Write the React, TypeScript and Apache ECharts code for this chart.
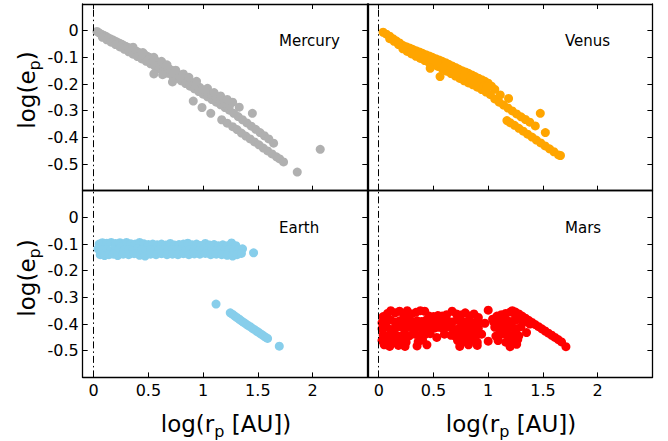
import React, { useEffect, useRef } from 'react';
import * as echarts from 'echarts';

const xTicks = [0, 0.5, 1, 1.5, 2];
const yTicks = [0, -0.1, -0.2, -0.3, -0.4, -0.5];
const planetNames = ['Mercury', 'Venus', 'Earth', 'Mars'];
const planetColors = ['#b0b0b0', '#ffa500', '#87ceeb', '#ff0000'];

const mercuryPts: number[][] = [
  [0.03,-0.003],[0.05,-0.008],[0.07,-0.013],[0.09,-0.017],[0.11,-0.021],[0.13,-0.026],[0.15,-0.03],[0.17,-0.034],[0.19,-0.038],[0.21,-0.042],[0.23,-0.046],[0.25,-0.05],[0.27,-0.054],[0.29,-0.058],[0.31,-0.062],[0.33,-0.066],[0.35,-0.07],[0.37,-0.073],[0.39,-0.077],[0.41,-0.081],[0.43,-0.085],[0.45,-0.089],[0.47,-0.092],[0.49,-0.096],[0.51,-0.1],[0.53,-0.105],[0.55,-0.109],[0.57,-0.114],[0.59,-0.118],[0.61,-0.123],[0.63,-0.128],[0.65,-0.133],[0.67,-0.138],[0.69,-0.143],[0.71,-0.148],[0.73,-0.153],[0.75,-0.158],[0.77,-0.163],[0.79,-0.168],[0.81,-0.173],[0.83,-0.178],[0.85,-0.183],[0.87,-0.188],[0.89,-0.193],[0.91,-0.198],[0.93,-0.203],[0.95,-0.208],[0.97,-0.213],
  [0.08,-0.025],[0.12,-0.034],[0.16,-0.043],[0.2,-0.052],[0.24,-0.061],[0.28,-0.07],[0.32,-0.079],[0.36,-0.088],[0.4,-0.097],[0.44,-0.106],[0.48,-0.115],[0.52,-0.124],[0.56,-0.133],[0.6,-0.142],[0.64,-0.151],[0.68,-0.16],[0.72,-0.169],[0.76,-0.178],[0.8,-0.188],[0.84,-0.198],[0.88,-0.208],[0.92,-0.218],[0.96,-0.228],[1.0,-0.238],[1.04,-0.248],[1.08,-0.258],[1.12,-0.268],[1.16,-0.278],[1.2,-0.288],[1.24,-0.298],
  [1.0,-0.222],[1.04,-0.232],[1.08,-0.242],[1.12,-0.252],[1.16,-0.262],[1.2,-0.272],[1.24,-0.282],[1.28,-0.31],[1.32,-0.322],[1.36,-0.334],[1.4,-0.346],[1.44,-0.358],[1.48,-0.37],[1.52,-0.382],[1.56,-0.394],[1.6,-0.406],[1.644,-0.422],
  [0.36,-0.062],[0.45,-0.082],[0.55,-0.1],[0.62,-0.115],[0.67,-0.128],[0.75,-0.148],[0.82,-0.162],[0.87,-0.175],[0.94,-0.19],[1.04,-0.216],[1.1,-0.232],[1.16,-0.245],[1.22,-0.258],[1.27,-0.268],[1.33,-0.287],[1.45,-0.31],
  [0.91,-0.264],[0.99,-0.288],[1.07,-0.31],[1.17,-0.334],[1.22,-0.347],[1.27,-0.36],[1.31,-0.371],[1.35,-0.384],[1.39,-0.395],[1.43,-0.406],[1.47,-0.417],[1.51,-0.428],[1.55,-0.44],[1.59,-0.451],[1.63,-0.462],[1.67,-0.473],[1.7,-0.481],[1.735,-0.492],
  [0.55,-0.162],[0.63,-0.165],[0.72,-0.192],[1.86,-0.53],[2.07,-0.445]
];

const venusPts: number[][] = [
  [0.04,-0.006],[0.07,-0.013],[0.1,-0.021],[0.13,-0.03],[0.16,-0.038],[0.19,-0.046],[0.22,-0.055],[0.25,-0.06],[0.28,-0.065],[0.31,-0.07],[0.34,-0.075],[0.37,-0.08],[0.4,-0.085],[0.43,-0.09],[0.46,-0.095],[0.49,-0.1],[0.52,-0.105],[0.55,-0.11],[0.58,-0.115],[0.61,-0.12],[0.64,-0.126],[0.67,-0.132],[0.7,-0.138],[0.73,-0.144],[0.76,-0.15],[0.79,-0.155],[0.82,-0.16],[0.85,-0.166],[0.88,-0.172],[0.91,-0.178],[0.94,-0.184],[0.97,-0.19],[1.0,-0.197],[1.03,-0.208],[1.06,-0.22],
  [0.1,-0.03],[0.14,-0.04],[0.18,-0.052],[0.22,-0.068],[0.26,-0.078],[0.3,-0.087],[0.34,-0.096],[0.38,-0.104],[0.42,-0.112],[0.46,-0.12],[0.5,-0.127],[0.54,-0.134],[0.58,-0.143],[0.62,-0.152],[0.66,-0.161],[0.7,-0.17],[0.74,-0.179],[0.78,-0.188],[0.82,-0.196],[0.86,-0.203],[0.9,-0.212],[0.94,-0.221],[0.98,-0.23],[1.02,-0.24],[1.06,-0.256],[1.1,-0.268],[1.14,-0.279],[1.18,-0.29],[1.22,-0.301],[1.26,-0.312],[1.3,-0.323],[1.34,-0.333],[1.38,-0.343],[1.43,-0.357],
  [0.3,-0.078],[0.36,-0.09],[0.42,-0.102],[0.48,-0.113],[0.54,-0.123],[0.6,-0.133],[0.66,-0.146],[0.72,-0.158],[0.78,-0.17],[0.84,-0.182],[0.9,-0.194],[0.96,-0.206],
  [1.171,-0.337],[1.2,-0.345],[1.24,-0.355],[1.28,-0.366],[1.32,-0.377],[1.36,-0.388],[1.4,-0.399],[1.44,-0.41],[1.48,-0.421],[1.52,-0.432],[1.56,-0.443],[1.6,-0.454],[1.643,-0.466],[1.66,-0.468],
  [0.47,-0.141],[0.56,-0.172],[0.99,-0.21],[1.11,-0.241],[1.186,-0.254],[1.476,-0.31],[1.522,-0.382]
];

const earthPts: number[][] = [
  [0.05,-0.1],[0.08,-0.095],[0.12,-0.097],[0.16,-0.094],[0.2,-0.098],[0.24,-0.095],[0.28,-0.1],[0.3,-0.094],[0.34,-0.099],[0.38,-0.1],[0.42,-0.094],[0.46,-0.099],[0.5,-0.102],[0.54,-0.1],[0.58,-0.103],[0.62,-0.1],[0.66,-0.104],[0.7,-0.098],[0.74,-0.104],[0.78,-0.102],[0.82,-0.1],[0.86,-0.097],[0.9,-0.103],[0.94,-0.1],[0.98,-0.105],[1.02,-0.098],[1.06,-0.104],[1.1,-0.102],[1.14,-0.106],[1.18,-0.103],[1.22,-0.106],[1.26,-0.096],[1.3,-0.106],
  [0.04,-0.118],[0.08,-0.122],[0.12,-0.12],[0.16,-0.125],[0.2,-0.12],[0.24,-0.118],[0.28,-0.122],[0.32,-0.12],[0.36,-0.124],[0.4,-0.118],[0.44,-0.122],[0.48,-0.125],[0.52,-0.12],[0.56,-0.123],[0.6,-0.12],[0.64,-0.122],[0.68,-0.125],[0.72,-0.12],[0.76,-0.122],[0.8,-0.12],[0.84,-0.124],[0.88,-0.12],[0.92,-0.122],[0.96,-0.125],[1.0,-0.12],[1.04,-0.123],[1.08,-0.12],[1.12,-0.125],[1.16,-0.12],[1.2,-0.124],[1.24,-0.12],[1.28,-0.125],[1.32,-0.12],[1.36,-0.118],
  [0.06,-0.14],[0.1,-0.143],[0.14,-0.14],[0.18,-0.138],[0.22,-0.143],[0.27,-0.138],[0.32,-0.14],[0.37,-0.136],[0.42,-0.142],[0.47,-0.145],[0.52,-0.138],[0.57,-0.14],[0.62,-0.136],[0.67,-0.14],[0.72,-0.138],[0.77,-0.14],[0.82,-0.136],[0.87,-0.14],[0.92,-0.137],[0.97,-0.138],[1.02,-0.135],[1.07,-0.14],[1.12,-0.138],[1.17,-0.14],[1.22,-0.142],[1.27,-0.145],[1.31,-0.14],[1.35,-0.135],
  [1.118,-0.325],[1.248,-0.358],[1.27,-0.364],[1.29,-0.37],[1.31,-0.376],[1.33,-0.382],[1.35,-0.388],[1.37,-0.394],[1.39,-0.399],[1.41,-0.405],[1.43,-0.41],[1.45,-0.416],[1.47,-0.421],[1.49,-0.427],[1.51,-0.432],[1.53,-0.438],[1.55,-0.443],[1.57,-0.449],[1.589,-0.454],
  [1.461,-0.133],[1.696,-0.483]
];

const marsPts: number[][] = [
  [0.04,-0.372],[0.08,-0.36],[0.11,-0.35],[0.15,-0.358],[0.19,-0.352],[0.23,-0.365],[0.26,-0.35],[0.3,-0.362],[0.34,-0.356],[0.38,-0.35],[0.42,-0.352],[0.46,-0.37],[0.5,-0.372],[0.54,-0.368],[0.58,-0.37],[0.62,-0.365],[0.67,-0.352],[0.71,-0.362],[0.75,-0.366],[0.79,-0.358],[0.83,-0.37],[0.87,-0.362],[0.91,-0.375],[1.0,-0.348],[1.04,-0.382],[1.08,-0.37],[1.12,-0.365],[1.16,-0.36],[1.2,-0.355],[1.24,-0.36],
  [0.03,-0.395],[0.07,-0.39],[0.11,-0.385],[0.15,-0.392],[0.19,-0.388],[0.23,-0.39],[0.27,-0.385],[0.31,-0.392],[0.35,-0.388],[0.39,-0.39],[0.43,-0.386],[0.47,-0.392],[0.51,-0.39],[0.55,-0.395],[0.59,-0.39],[0.63,-0.388],[0.67,-0.392],[0.71,-0.386],[0.75,-0.39],[0.79,-0.392],[0.83,-0.388],[0.87,-0.395],[0.91,-0.39],[0.97,-0.397],[1.05,-0.392],[1.09,-0.388],[1.13,-0.39],[1.17,-0.386],[1.21,-0.39],[1.25,-0.385],[1.29,-0.38],
  [0.03,-0.418],[0.07,-0.412],[0.11,-0.42],[0.15,-0.414],[0.19,-0.41],[0.23,-0.418],[0.27,-0.412],[0.31,-0.416],[0.35,-0.41],[0.39,-0.418],[0.43,-0.414],[0.47,-0.41],[0.51,-0.415],[0.55,-0.412],[0.59,-0.418],[0.63,-0.41],[0.67,-0.415],[0.71,-0.42],[0.75,-0.412],[0.79,-0.418],[0.83,-0.414],[0.87,-0.42],[0.91,-0.416],[1.06,-0.412],[1.1,-0.418],[1.14,-0.41],[1.18,-0.415],[1.22,-0.412],[1.26,-0.418],[1.3,-0.41],
  [0.04,-0.44],[0.08,-0.445],[0.12,-0.438],[0.16,-0.442],[0.2,-0.446],[0.24,-0.44],[0.28,-0.444],[0.33,-0.438],[0.38,-0.444],[0.42,-0.44],[0.47,-0.436],[0.53,-0.45],[0.6,-0.438],[0.66,-0.442],[0.7,-0.446],[0.74,-0.44],[0.78,-0.444],[0.82,-0.438],[0.86,-0.445],[0.9,-0.44],[0.94,-0.438],[1.07,-0.445],[1.11,-0.44],[1.15,-0.436],[1.19,-0.442],[1.24,-0.438],[1.28,-0.444],[1.35,-0.432],
  [0.03,-0.462],[0.07,-0.468],[0.11,-0.464],[0.15,-0.47],[0.2,-0.462],[0.25,-0.468],[0.36,-0.466],[0.4,-0.46],[0.72,-0.462],[0.76,-0.468],[0.8,-0.464],[0.85,-0.46],[0.9,-0.468],[1.0,-0.464],[1.09,-0.462],[1.16,-0.468],[1.22,-0.462],[1.27,-0.458],
  [0.05,-0.478],[0.1,-0.484],[0.18,-0.48],[0.24,-0.484],[0.35,-0.482],[0.44,-0.478],[0.74,-0.484],[0.82,-0.478],[0.9,-0.48],[1.2,-0.485],[1.26,-0.476],
  [1.22,-0.35],[1.25,-0.355],[1.28,-0.362],[1.31,-0.37],[1.34,-0.378],[1.37,-0.386],[1.4,-0.394],[1.43,-0.402],[1.46,-0.41],[1.49,-0.418],[1.52,-0.426],[1.55,-0.434],[1.58,-0.442],[1.61,-0.45],[1.64,-0.458],[1.67,-0.467],[1.71,-0.485],
  [1.26,-0.37],[1.3,-0.38],[1.34,-0.39],[1.38,-0.4]
];

const panelData = [mercuryPts, venusPts, earthPts, marsPts];

const FONT = 'DejaVu Sans';
const GRID_LEFT = [82.7, 367.8];
const GRID_TOP = [4, 190.7];
const GRID_W = 284.6;
const GRID_H = 186.7;

export default function App() {
  const ref = useRef<HTMLDivElement>(null);
  useEffect(() => {
    const chart = echarts.init(ref.current!, null, { renderer: 'svg' });
    const grids: any[] = [];
    const xAxes: any[] = [];
    const yAxes: any[] = [];
    const series: any[] = [];
    const axisLine = { show: true, onZero: false, lineStyle: { color: '#000', width: 1.3 } };
    for (let i = 0; i < 4; i++) {
      const col = i % 2;
      const row = Math.floor(i / 2);
      grids.push({ left: GRID_LEFT[col], top: GRID_TOP[row], width: GRID_W, height: GRID_H });
      const xBase = {
        gridIndex: i, type: 'value', min: -0.1, max: 2.5, splitLine: { show: false }, axisLine,
      };
      xAxes.push({
        ...xBase, position: 'bottom',
        axisTick: { show: true, inside: true, length: 5, customValues: xTicks, lineStyle: { color: '#000', width: 1 } },
        axisLabel: {
          show: row === 1, customValues: xTicks, margin: 5, color: '#000', fontSize: 16, fontFamily: FONT,
          formatter: (v: number) => String(Math.round(v * 10) / 10),
        },
      });
      xAxes.push({
        ...xBase, position: 'top',
        axisTick: { show: row === 0, inside: true, length: 5, customValues: xTicks, lineStyle: { color: '#000', width: 1 } },
        axisLabel: { show: false },
      });
      const yBase = {
        gridIndex: i, type: 'value', min: -0.6, max: 0.1, splitLine: { show: false }, axisLine,
      };
      yAxes.push({
        ...yBase, position: 'left',
        axisTick: { show: col === 0, inside: true, length: 5, customValues: yTicks, lineStyle: { color: '#000', width: 1 } },
        axisLabel: {
          show: col === 0, customValues: yTicks, margin: 4, color: '#000', fontSize: 16, fontFamily: FONT,
          formatter: (v: number) => String(Math.round(v * 10) / 10),
        },
      });
      yAxes.push({
        ...yBase, position: 'right',
        axisTick: { show: true, inside: true, length: 5, customValues: yTicks, lineStyle: { color: '#000', width: 1 } },
        axisLabel: { show: false },
      });
      series.push({
        type: 'scatter', name: planetNames[i], xAxisIndex: 2 * i, yAxisIndex: 2 * i,
        symbolSize: 9, itemStyle: { color: planetColors[i], opacity: 1 },
        data: panelData[i],
        markLine: {
          silent: true, symbol: 'none', label: { show: false },
          lineStyle: { color: '#000', width: 1, type: [7, 3, 1.5, 3] },
          data: [{ xAxis: 0 }],
        },
      });
    }
    const titleRich = {
      a: { fontSize: 23, fontFamily: FONT, fill: '#000', lineHeight: 30, verticalAlign: 'middle' },
      b: { fontSize: 16, fontFamily: FONT, fill: '#000', lineHeight: 15, verticalAlign: 'bottom' },
    };
    const graphic: any[] = [];
    const labelX = [279, 565];
    const labelY = [40.5, 228.3];
    for (let i = 0; i < 4; i++) {
      graphic.push({
        type: 'text', x: labelX[i % 2], y: labelY[Math.floor(i / 2)],
        style: { text: planetNames[i], font: `15px "${FONT}"`, fill: '#000', align: 'left', verticalAlign: 'middle' },
      });
    }
    [90, 278].forEach((cy) => {
      graphic.push({
        type: 'text', x: 27, y: cy, rotation: Math.PI / 2,
        style: { text: '{a|log(e}{b|p}{a|)}', rich: titleRich, align: 'center', verticalAlign: 'middle' },
      });
    });
    [226, 511].forEach((cx) => {
      graphic.push({
        type: 'text', x: cx, y: 424,
        style: { text: '{a|log(r}{b|p}{a| [AU])}', rich: titleRich, align: 'center', verticalAlign: 'middle' },
      });
    });
    chart.setOption({
      animation: false,
      backgroundColor: '#fff',
      grid: grids,
      xAxis: xAxes,
      yAxis: yAxes,
      series,
      graphic,
    });
    return () => chart.dispose();
  }, []);
  return <div ref={ref} style={{ position: 'fixed', left: 0, top: 0, width: 668, height: 441, background: '#fff' }} />;
}
